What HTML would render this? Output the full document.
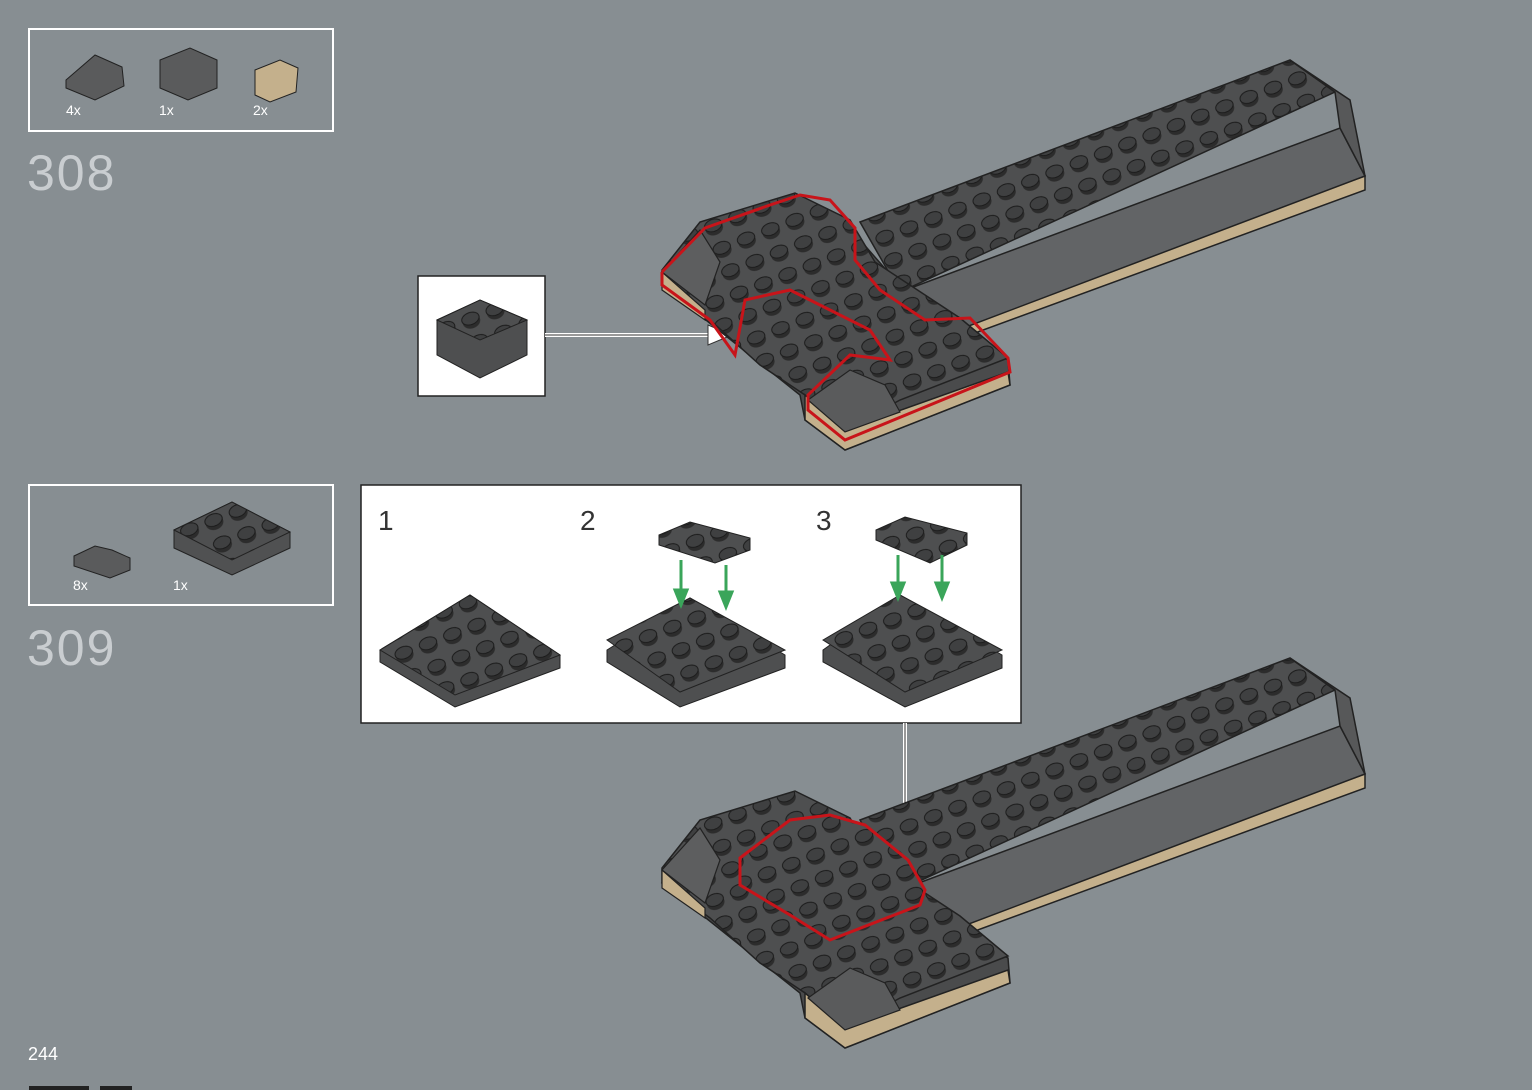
<!DOCTYPE html>
<html><head><meta charset="utf-8"><style>
html,body{margin:0;padding:0;background:#878e92;}
svg{display:block}
</style></head><body>
<svg width="1532" height="1090" viewBox="0 0 1532 1090" xmlns="http://www.w3.org/2000/svg" font-family="Liberation Sans, sans-serif">
<defs>
<pattern id="studs" width="26" height="24" patternUnits="userSpaceOnUse" patternTransform="rotate(-21)">
<rect width="26" height="24" fill="#4e4f50"/>
<ellipse cx="13" cy="13" rx="9" ry="7" fill="#2c2c2c"/>
<ellipse cx="13" cy="10" rx="9" ry="6" fill="#3f4041" stroke="#1a1a1a" stroke-width="1"/>
</pattern>
<pattern id="studsT" width="26" height="24" patternUnits="userSpaceOnUse" patternTransform="rotate(-21)">
<rect width="26" height="24" fill="#b9a88a"/>
<ellipse cx="13" cy="10" rx="9" ry="6" fill="#cbb998" stroke="#3a3020" stroke-width="1"/>
</pattern>
<g id="model">
<!-- tan base strip of arm -->
<polygon points="940,328 1365,176 1365,190 945,344" fill="#c4b08c" stroke="#222" stroke-width="1.5"/>
<!-- arm side slope -->
<polygon points="900,292 1340,128 1365,176 945,335" fill="#626466" stroke="#222" stroke-width="1.5"/>
<!-- arm top with studs -->
<polygon points="860,222 1290,60 1335,92 900,292" fill="url(#studs)" stroke="#222" stroke-width="1.5"/>
<polygon points="1290,60 1350,100 1365,176 1340,128 1335,92" fill="#575859" stroke="#222" stroke-width="1.5"/>
<!-- foot -->
<polygon points="662,285 800,395 805,420 845,450 1010,385 1008,360 930,320 860,240 795,195" fill="#4a4b4c" stroke="#222" stroke-width="1.5"/>
<polygon points="662,270 700,222 795,193 850,220 875,262 960,318 1008,358 900,400 845,430 805,395 760,365 710,320 662,285" fill="url(#studs)" stroke="#222" stroke-width="1.5"/>
<polygon points="805,395 845,430 1008,372 1010,385 845,450 805,420" fill="#c4b08c" stroke="#222" stroke-width="1.5"/>
<polygon points="662,272 705,310 705,320 662,290" fill="#c4b08c" stroke="#222" stroke-width="1.2"/>
<polygon points="808,400 850,370 885,385 900,412 845,432" fill="#5a5b5c" stroke="#222" stroke-width="1.2"/>
<polygon points="662,272 700,230 720,262 705,305" fill="#5d5e5f" stroke="#222" stroke-width="1.2"/>
</g>
</defs>

<!-- step 308 parts box -->
<rect x="29" y="29" width="304" height="102" fill="none" stroke="#fff" stroke-width="2"/>
<polygon points="66,80 95,55 122,67 124,86 95,100 66,88" fill="#5a5b5c" stroke="#222"/>
<polygon points="160,60 190,48 217,60 217,88 188,100 160,88" fill="#5a5b5c" stroke="#222"/>
<polygon points="255,70 280,60 298,68 296,92 270,102 255,95" fill="#c4b08c" stroke="#222"/>
<text x="66" y="115" font-size="14" fill="#fff">4x</text>
<text x="159" y="115" font-size="14" fill="#fff">1x</text>
<text x="253" y="115" font-size="14" fill="#fff">2x</text>
<text x="27" y="190" font-size="50" fill="#c9cdd0" font-weight="300" letter-spacing="2">308</text>

<!-- callout -->
<rect x="418" y="276" width="127" height="120" fill="#fff" stroke="#222" stroke-width="1.5"/>
<polygon points="437,320 480,300 527,320 527,355 480,378 437,355" fill="#4e4f50" stroke="#222"/>
<polygon points="437,320 480,300 527,320 480,340" fill="url(#studs)" stroke="#222"/>
<line x1="545" y1="335" x2="712" y2="335" stroke="#fff" stroke-width="4"/>
<line x1="545" y1="335" x2="712" y2="335" stroke="#333" stroke-width="1"/>
<polygon points="708,325 732,335 708,345" fill="#fff" stroke="#333"/>

<use href="#model"/>
<polyline points="662,272 705,228 770,205 800,195 830,200 855,228 855,260 880,290 925,320 970,318 1008,358 1010,372 845,440 808,410 808,395 850,355 890,360 870,330 790,290 745,300 735,355 710,320 662,285 662,272" fill="none" stroke="#c8141a" stroke-width="3"/>

<!-- step 309 parts box -->
<rect x="29" y="485" width="304" height="120" fill="none" stroke="#fff" stroke-width="2"/>
<polygon points="74,556 95,546 112,550 130,558 130,570 110,578 74,566" fill="#5a5b5c" stroke="#222"/>
<polygon points="174,530 232,502 290,532 290,548 232,575 174,548" fill="#505152" stroke="#222"/>
<polygon points="174,530 232,502 290,532 232,560" fill="url(#studs)" stroke="#222"/>
<text x="73" y="590" font-size="14" fill="#fff">8x</text>
<text x="173" y="590" font-size="14" fill="#fff">1x</text>
<text x="27" y="665" font-size="50" fill="#c9cdd0" letter-spacing="2">309</text>

<!-- sub-steps box -->
<rect x="361" y="485" width="660" height="238" fill="#fff" stroke="#222" stroke-width="1.5"/>
<text x="378" y="530" font-size="28" fill="#333">1</text>
<text x="580" y="530" font-size="28" fill="#333">2</text>
<text x="816" y="530" font-size="28" fill="#333">3</text>
<polygon points="380,650 470,595 560,655 560,668 455,707 380,662" fill="#4e4f50" stroke="#222"/>
<polygon points="380,650 470,595 560,655 455,695" fill="url(#studs)" stroke="#222"/>
<polygon points="607,650 690,598 785,655 785,668 680,707 607,662" fill="#4e4f50" stroke="#222"/>
<polygon points="607,640 690,598 785,650 680,692" fill="url(#studs)" stroke="#222"/>
<polygon points="823,650 900,595 1002,655 1002,668 905,707 823,662" fill="#4e4f50" stroke="#222"/>
<polygon points="823,640 900,595 1002,650 905,692" fill="url(#studs)" stroke="#222"/>
<polygon points="659,535 690,522 750,538 750,550 715,563 659,545" fill="url(#studs)" stroke="#222"/>
<polygon points="876,530 905,517 967,533 967,545 930,563 876,540" fill="url(#studs)" stroke="#222"/>
<g stroke="#3aa55a" stroke-width="3" fill="#3aa55a">
<line x1="681" y1="560" x2="681" y2="595"/><polygon points="675,590 687,590 681,605"/>
<line x1="726" y1="565" x2="726" y2="597"/><polygon points="720,592 732,592 726,607"/>
<line x1="898" y1="555" x2="898" y2="588"/><polygon points="892,583 904,583 898,598"/>
<line x1="942" y1="555" x2="942" y2="588"/><polygon points="936,583 948,583 942,598"/>
</g>

<line x1="905" y1="723" x2="905" y2="825" stroke="#fff" stroke-width="4"/>
<line x1="905" y1="723" x2="905" y2="825" stroke="#333" stroke-width="1"/>
<polygon points="895,822 905,842 915,822" fill="#fff" stroke="#333"/>

<g transform="translate(0,598)"><use href="#model"/></g>
<polygon points="740,858 790,820 830,815 865,825 908,860 925,890 920,905 830,940 790,915 740,885" fill="url(#studs)" stroke="#c8141a" stroke-width="3"/>

<text x="28" y="1060" font-size="18" fill="#fff">244</text>
<rect x="29" y="1086" width="60" height="4" fill="#222"/>
<rect x="100" y="1086" width="32" height="4" fill="#222"/>
</svg>
</body></html>
